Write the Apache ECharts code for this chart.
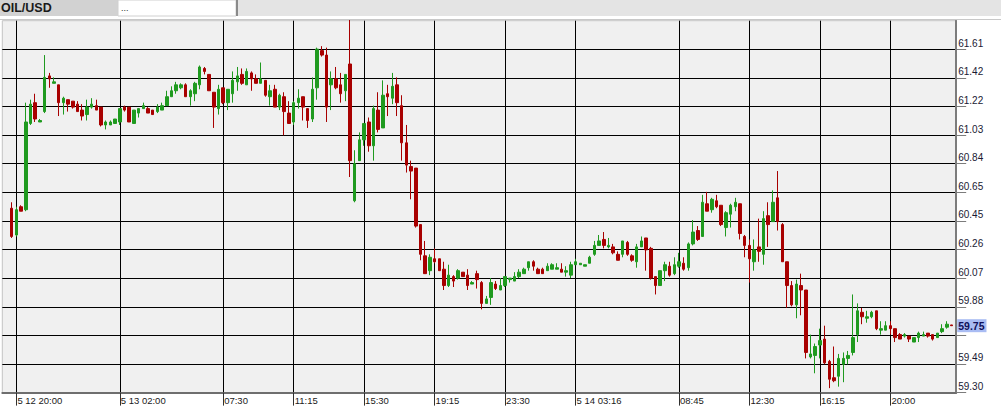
<!DOCTYPE html>
<html><head><meta charset="utf-8">
<script src="https://cdn.jsdelivr.net/npm/echarts@6/dist/echarts.min.js"></script>
<style>html,body{margin:0;padding:0;background:#fff}#c{width:1001px;height:414px}</style>
</head><body><div id="c"></div><script>
// ---- data (15-min OIL/USD candles) ----
const symbolName = 'OIL/USD';
const tickIndex = [1, 23, 45, 60, 75, 90, 105, 120, 142, 157, 172, 187];
const tickLabels = ['5 12 20:00', '5 13 02:00', '07:30', '11:15', '15:30', '19:15', '23:30', '5 14 03:16', '08:45', '12:30', '16:15', '20:00'];
const opens = [60.54,60.36,60.55,60.53,61.11,61.25,61.12,61.19,61.43,61.38,61.37,61.25,61.27,61.26,61.24,61.20,61.17,61.22,61.23,61.22,
61.10,61.10,61.11,61.12,61.22,61.22,61.11,61.18,61.21,61.21,61.20,61.19,61.20,61.23,61.29,61.33,61.35,61.37,61.29,61.31,
61.37,61.48,61.44,61.32,61.21,61.35,61.25,61.31,61.39,61.44,61.37,61.45,61.41,61.38,61.40,61.29,61.34,61.22,61.29,61.18,
61.12,61.25,61.29,61.21,61.14,61.35,61.60,61.57,61.37,61.41,61.37,61.33,61.51,60.59,60.86,61.00,61.12,60.96,61.20,61.08,
61.31,61.28,61.37,61.23,60.98,60.82,60.81,60.43,60.22,60.12,60.20,60.20,60.13,60.02,60.08,60.07,60.11,60.09,60.03,60.10,
60.04,59.90,59.94,60.03,59.99,60.02,60.06,60.05,60.08,60.10,60.14,60.18,60.13,60.13,60.12,60.13,60.13,60.13,60.11,60.09,
60.16,60.16,60.15,60.17,60.23,60.29,60.33,60.28,60.28,60.23,60.23,60.31,60.22,60.18,60.28,60.34,60.27,60.08,60.02,60.12,
60.15,60.10,60.15,60.17,60.14,60.30,60.39,60.35,60.57,60.53,60.59,60.56,60.41,60.50,60.55,60.57,60.35,60.29,60.18,60.28,
60.23,60.49,60.45,60.61,60.43,60.18,60.02,59.89,60.02,59.99,59.54,59.55,59.62,59.66,59.51,59.40,59.41,59.49,59.53,59.57,
59.69,59.84,59.80,59.81,59.85,59.72,59.72,59.75,59.73,59.69,59.68,59.68,59.64,59.67,59.68,59.70,59.69,59.67,59.71,59.74,59.755];
const closes = [60.35,60.53,60.52,61.12,61.24,61.14,61.13,61.42,61.41,61.39,61.25,61.28,61.24,61.22,61.19,61.16,61.22,61.24,61.20,61.10,
61.12,61.12,61.14,61.21,61.20,61.12,61.20,61.21,61.23,61.18,61.17,61.22,61.23,61.29,61.33,61.37,61.37,61.29,61.33,61.38,
61.49,61.46,61.33,61.22,61.34,61.25,61.34,61.40,61.43,61.38,61.46,61.41,61.38,61.41,61.30,61.33,61.22,61.30,61.19,61.11,
61.25,61.28,61.22,61.13,61.34,61.61,61.57,61.22,61.41,61.35,61.31,61.44,60.86,60.84,61.00,61.11,60.96,61.21,61.07,61.30,
61.29,61.36,61.25,60.98,60.83,60.79,60.42,60.23,60.10,60.21,60.18,60.12,60.02,60.09,60.05,60.12,60.08,60.02,60.04,60.06,
59.90,59.93,60.04,60.00,60.02,60.08,60.07,60.08,60.11,60.13,60.18,60.15,60.10,60.10,60.15,60.16,60.14,60.11,60.12,60.16,
60.18,60.17,60.16,60.21,60.29,60.32,60.29,60.29,60.24,60.19,60.32,60.23,60.19,60.28,60.32,60.26,60.07,60.02,60.12,60.16,
60.09,60.16,60.18,60.13,60.30,60.38,60.33,60.58,60.52,60.60,60.55,60.43,60.51,60.56,60.58,60.37,60.29,60.20,60.26,60.25,
60.47,60.43,60.58,60.45,60.18,60.02,59.89,60.03,59.99,59.57,59.56,59.61,59.65,59.50,59.39,59.38,59.53,59.53,59.55,59.67,
59.85,59.81,59.81,59.84,59.73,59.73,59.75,59.73,59.67,59.66,59.69,59.66,59.67,59.70,59.69,59.68,59.66,59.70,59.73,59.76,59.75];
const lows = [60.34,60.35,60.52,60.52,61.10,61.12,61.12,61.18,61.35,61.38,61.16,61.17,61.19,61.21,61.19,61.13,61.13,61.21,61.20,61.09,
61.07,61.10,61.11,61.10,61.19,61.12,61.11,61.15,61.21,61.18,61.17,61.18,61.20,61.23,61.29,61.31,61.34,61.29,61.23,61.26,
61.34,61.44,61.33,61.08,61.17,61.24,61.20,61.25,61.33,61.37,61.37,61.33,61.38,61.38,61.29,61.23,61.22,61.20,61.03,61.11,
61.10,61.21,61.13,61.08,61.12,61.27,61.56,61.12,61.20,61.34,61.25,61.26,60.75,60.58,60.86,60.96,60.92,60.86,61.05,61.08,
61.16,61.24,61.16,60.86,60.78,60.60,60.41,60.19,60.10,60.09,60.17,60.12,59.99,60.01,60.01,60.06,60.08,59.99,60.03,60.00,
59.86,59.90,59.89,59.99,59.99,60.01,60.04,60.05,60.07,60.10,60.12,60.12,60.10,60.10,60.12,60.13,60.13,60.11,60.08,60.07,
60.16,60.16,60.15,60.17,60.22,60.29,60.27,60.27,60.23,60.19,60.21,60.22,60.18,60.14,60.28,60.12,60.06,59.96,60.02,60.05,
60.08,60.09,60.14,60.12,60.12,60.29,60.32,60.35,60.52,60.51,60.54,60.42,60.35,60.41,60.52,60.33,60.21,60.04,60.12,60.18,
60.16,60.28,60.45,60.39,60.18,59.87,59.88,59.80,59.82,59.53,59.53,59.43,59.53,59.49,59.33,59.37,59.34,59.37,59.49,59.55,
59.64,59.76,59.77,59.80,59.72,59.69,59.72,59.69,59.64,59.66,59.67,59.64,59.64,59.64,59.68,59.67,59.65,59.67,59.70,59.73,59.75];
const highs = [60.58,60.55,60.56,61.25,61.27,61.31,61.14,61.57,61.45,61.42,61.37,61.29,61.27,61.26,61.26,61.24,61.27,61.28,61.27,61.22,
61.13,61.13,61.14,61.21,61.23,61.22,61.20,61.21,61.25,61.22,61.20,61.24,61.25,61.33,61.36,61.39,61.38,61.38,61.34,61.39,
61.50,61.49,61.44,61.32,61.37,61.35,61.34,61.46,61.49,61.48,61.48,61.46,61.44,61.52,61.40,61.37,61.37,61.31,61.32,61.26,
61.26,61.34,61.29,61.21,61.42,61.62,61.63,61.62,61.46,61.49,61.45,61.44,61.81,60.93,61.05,61.11,61.15,61.23,61.32,61.40,
61.37,61.45,61.42,61.30,61.10,60.86,60.81,60.43,60.32,60.23,60.27,60.20,60.18,60.16,60.09,60.13,60.11,60.13,60.05,60.12,
60.05,59.95,60.07,60.05,60.07,60.08,60.07,60.11,60.13,60.14,60.18,60.19,60.14,60.14,60.17,60.17,60.17,60.17,60.15,60.18,
60.20,60.17,60.16,60.22,60.32,60.36,60.38,60.34,60.30,60.25,60.32,60.32,60.23,60.30,60.35,60.34,60.28,60.08,60.12,60.18,
60.18,60.21,60.24,60.21,60.31,60.46,60.42,60.63,60.65,60.61,60.63,60.56,60.52,60.57,60.61,60.57,60.36,60.33,60.33,60.47,
60.52,60.58,60.66,60.79,60.44,60.18,60.05,60.06,60.10,59.99,59.69,59.63,59.73,59.75,59.52,59.61,59.56,59.57,59.58,59.96,
59.90,59.87,59.85,59.85,59.85,59.78,59.78,59.78,59.73,59.70,59.70,59.68,59.67,59.71,59.71,59.70,59.69,59.70,59.76,59.78,59.755];
const yMin = 59.30, yStep = 0.1924, yMax = 59.30 + 13 * 0.1924;

// ---- build ----
const padBefore = 2, padAfter = 1;
const total = padBefore + opens.length + padAfter;
const cats = [], ohlc = [];
const tickSlot = {};
tickIndex.forEach((ti, k) => { tickSlot[ti + padBefore] = tickLabels[k]; });
for (let s = 0; s < total; s++) {
  cats.push(String(s));
  const i = s - padBefore;
  if (i >= 0 && i < opens.length) ohlc.push([opens[i], closes[i], lows[i], highs[i]]);
  else ohlc.push('-');
}
const isTick = (idx) => tickSlot[idx] !== undefined;
const lastPrice = closes[closes.length - 1];

const chart = echarts.init(document.getElementById('c'), null, {renderer: 'svg'});
chart.setOption({
  animation: false,
  backgroundColor: '#ffffff',
  grid: {left: 2.3, right: 44.8, top: 20.7, bottom: 21.4, show: true,
         backgroundColor: '#f0f0f0', borderColor: '#c4c4c4', borderWidth: 1, outerBoundsMode: 'none'},
  xAxis: {
    type: 'category', data: cats, boundaryGap: false,
    axisLine: {show: true, lineStyle: {color: '#6e6e6e', width: 2}},
    axisTick: {show: true, interval: isTick, length: 13, lineStyle: {color: '#303030', width: 1}},
    axisLabel: {show: true, interval: isTick, align: 'left', verticalAlign: 'top', margin: 3,
                padding: [0, 0, 0, 1], fontFamily: 'Liberation Sans', fontSize: 9.5, color: '#1a1a1a',
                formatter: (v, idx) => tickSlot[idx] || ''},
    splitLine: {show: true, interval: isTick, lineStyle: {color: '#000000', width: 1}}
  },
  yAxis: {
    type: 'value', position: 'right', min: yMin, max: yMax, interval: yStep, scale: true,
    axisLine: {show: true, lineStyle: {color: '#7c7c7c', width: 2}},
    axisTick: {show: true, length: 10, lineStyle: {color: '#7c7c7c', width: 1}},
    axisLabel: {show: true, margin: 2, verticalAlign: 'bottom', padding: [0, 0, 1, 0], showMaxLabel: false,
                fontFamily: 'Liberation Sans', fontSize: 10, color: '#1a1a33',
                formatter: (v) => (Math.abs(v - yMax) < 1e-6 || Math.abs(v - (yMin + 2 * yStep)) < 1e-6) ? '' : v.toFixed(2)},
    splitLine: {show: true, showMaxLine: false, lineStyle: {color: '#000000', width: 1}}
  },
  graphic: [
    {type: 'rect', z: 100, shape: {x: 0, y: 0, width: 118, height: 16}, style: {fill: '#d2d2d2'}},
    {type: 'rect', z: 100, shape: {x: 118, y: 0, width: 118, height: 16}, style: {fill: '#ffffff', stroke: '#d0d0d0', lineWidth: 1}},
    {type: 'rect', z: 100, shape: {x: 236, y: 0, width: 2, height: 16}, style: {fill: '#8a8a8a'}},
    {type: 'rect', z: 100, shape: {x: 238, y: 0, width: 763, height: 16}, style: {fill: '#e4e4e4'}},
    {type: 'line', z: 100, shape: {x1: 0, y1: 19.5, x2: 1001, y2: 19.5}, style: {stroke: '#c8c8c8', lineWidth: 1}},
    {type: 'text', z: 101, x: 1, y: 8, style: {text: symbolName, fontFamily: 'Liberation Sans', fontWeight: 'bold',
      fontSize: 12.5, fill: '#1a1a1a', verticalAlign: 'middle', align: 'left'}},
    {type: 'text', z: 101, x: 121, y: 8, style: {text: '...', fontFamily: 'Liberation Sans', fontSize: 9,
      fill: '#333333', verticalAlign: 'middle', align: 'left'}}
  ],
  series: [{
    type: 'candlestick', data: ohlc, barWidth: 3, clip: true,
    itemStyle: {color: '#1f9a1f', color0: '#a80000', borderColor: '#1f9a1f', borderColor0: '#a80000', borderWidth: 1},
    markLine: {
      silent: true, symbol: ['none', 'none'], animation: false, z: 10,
      lineStyle: {color: 'rgba(0,0,0,0)', width: 1, type: 'solid'},
      data: [{yAxis: lastPrice}],
      label: {show: true, position: 'end', distance: 1, formatter: (p) => Number(p.value).toFixed(2),
              backgroundColor: '#a9bcf3', color: '#10105a', fontWeight: 'bold', fontFamily: 'Liberation Sans',
              fontSize: 10.5, padding: [1, 2, 1, 1], opacity: 1}
    }
  }]
});
</script></body></html>
